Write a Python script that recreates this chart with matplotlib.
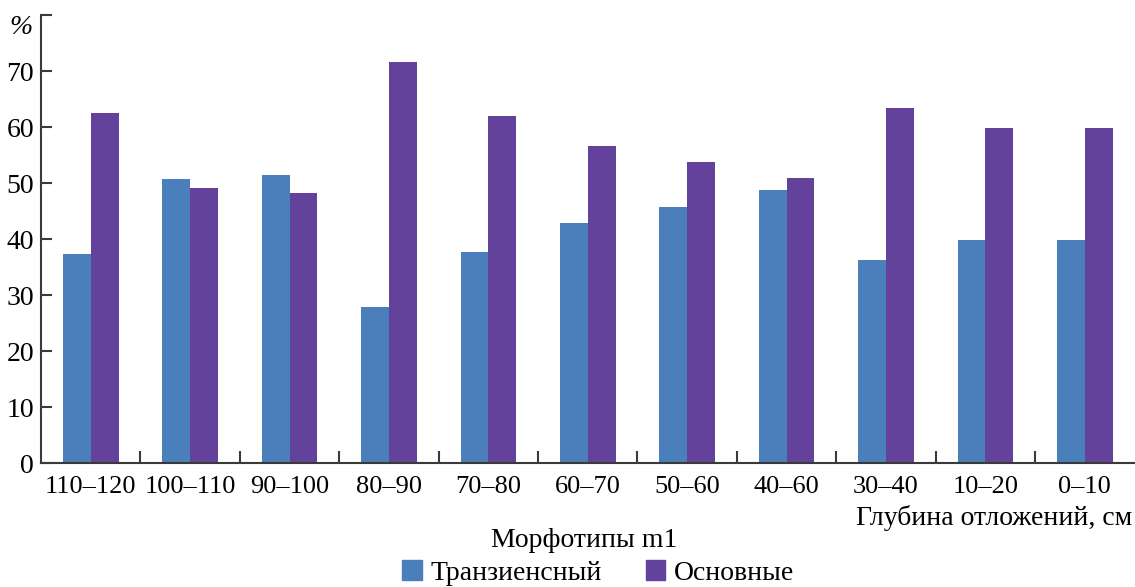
import matplotlib
matplotlib.use("Agg")
import matplotlib.pyplot as plt
import numpy as np
from matplotlib.patches import Patch
from matplotlib.transforms import offset_copy

# Глубина отложений (см) и доли морфотипов m1 (%)
depths = ["110–120", "100–110", "90–100", "80–90", "70–80", "60–70",
          "50–60", "40–60", "30–40", "10–20", "0–10"]
transient = [37.3, 50.7, 51.4, 27.9, 37.7, 42.9, 45.7, 48.7, 36.2, 39.8, 39.8]
basic = [62.5, 49.2, 48.3, 71.7, 62.0, 56.7, 53.8, 51.0, 63.4, 59.9, 59.9]
yticks = [0, 10, 20, 30, 40, 50, 60, 70]

C_BLUE = "#4a7fbb"
C_PURPLE = "#62429a"
AXIS = "#3a3a3a"
FS = 20

plt.rcParams["font.family"] = ["Liberation Serif", "DejaVu Serif"]
plt.rcParams["font.size"] = FS

fig = plt.figure(figsize=(11.35, 5.87), dpi=100)
ax = fig.add_axes([0.0361, 0.2107, 0.9635, 0.7637])

x = np.arange(len(depths))
w = 0.28
ax.bar(x - w / 2, transient, w, color=C_BLUE)
ax.bar(x + w / 2, basic, w, color=C_PURPLE)

ax.set_xlim(-0.5, len(depths) - 0.5)
ax.set_ylim(0, 80)

for s in ("top", "right"):
    ax.spines[s].set_visible(False)
for s in ("left", "bottom"):
    ax.spines[s].set_color(AXIS)
    ax.spines[s].set_linewidth(1.5)

# y: деления внутрь, верхнее деление без подписи (там "%")
ax.set_yticks(yticks + [80])
ax.set_yticklabels([str(v) for v in yticks] + [""])
ax.tick_params(axis="y", direction="in", length=8, width=1.5, color=AXIS,
               pad=5, labelsize=FS)
pct_tr = offset_copy(ax.get_yaxis_transform(), fig=fig, x=-6, y=0,
                     units="points")
ax.text(0, 80, "%", transform=pct_tr, ha="right", va="top", fontsize=FS,
        style="italic")

# x: подписи по центрам групп, деления на границах
ax.set_xticks(x)
ax.set_xticklabels(depths)
ax.tick_params(axis="x", which="major", length=0, pad=9, labelsize=FS - 1)
ax.set_xticks(x[:-1] + 0.5, minor=True)
ax.tick_params(axis="x", which="minor", direction="in", length=9, width=1.5,
               color=AXIS)

fig.text(0.998, 0.106, "Глубина отложений, см", ha="right", va="baseline",
         fontsize=FS)
fig.text(0.515, 0.068, "Морфотипы m1", ha="center", va="baseline",
         fontsize=FS)

handles = [Patch(color=C_BLUE, label="Транзиенсный"),
           Patch(color=C_PURPLE, label="Основные")]
fig.legend(handles=handles, loc="center", bbox_to_anchor=(0.527, 0.024),
           ncol=2, frameon=False, fontsize=FS, handlelength=0.7,
           handleheight=0.7, handletextpad=0.3, columnspacing=1.6,
           borderpad=0)

fig.savefig("out.png", dpi=100)
